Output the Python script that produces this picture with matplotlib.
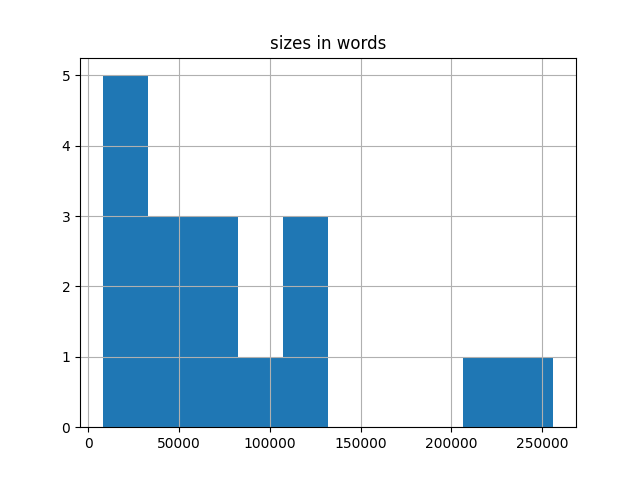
import matplotlib
matplotlib.use("Agg")
import matplotlib.pyplot as plt
import numpy as np

# histogram: 10 equal bins between min and max size
size_min = 7850
size_max = 256300
counts = [5, 3, 3, 1, 3, 0, 0, 0, 1, 1]

edges = np.linspace(size_min, size_max, len(counts) + 1)

fig, ax = plt.subplots(figsize=(6.4, 4.8), dpi=100)
ax.hist(edges[:-1], bins=edges, weights=counts, color="#1f77b4")
ax.set_title("sizes in words")
ax.grid(True)

fig.savefig("out.png", dpi=100)
